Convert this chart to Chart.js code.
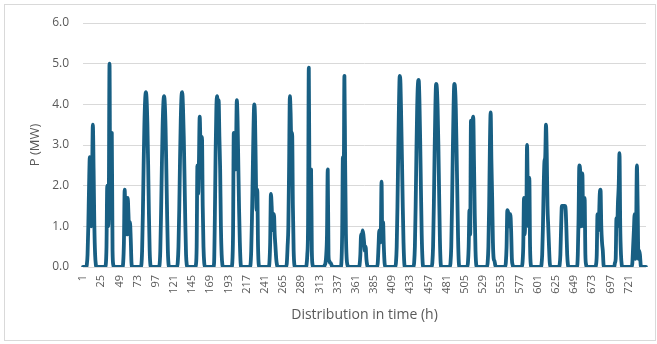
<!DOCTYPE html>
<html>
<head>
<meta charset="utf-8">
<script src="https://cdn.jsdelivr.net/npm/chart.js@4"></script>
<style>
  html, body { margin: 0; padding: 0; background: #fff; }
  #wrap { position: relative; width: 657px; height: 344px; }
</style>
</head>
<body>
<div id="wrap"><canvas id="powerChart" width="657" height="344"></canvas></div>
<script>
'use strict';

// hourly output over one month (744 h)
const power = [
  0,0,0,0,0,0.05,0.3,1.0,2.0,2.7,2.6,1.0,2.2,3.5,2.4,1.0,0.3,0.05,0,0,0,0,0,0,          // day 1
  0,0,0,0,0,0,0.05,0.5,2.0,1.0,1.5,5.0,1.2,2.0,3.3,0.4,0.05,0,0,0,0,0,0,0,             // day 2
  0,0,0,0,0,0.1,0.6,1.9,1.2,0.9,0.8,1.7,1.3,0.8,1.1,0.7,0.1,0,0,0,0,0,0,0,             // day 3
  0,0,0,0,0,0.05,0.4,1.3,2.5,3.5,4.1,4.3,4.1,3.5,2.5,1.3,0.4,0.05,0,0,0,0,0,0,         // day 4
  0,0,0,0,0,0.05,0.4,1.3,2.4,3.4,4.0,4.2,4.0,3.4,2.4,1.3,0.4,0.05,0,0,0,0,0,0,         // day 5
  0,0,0,0,0,0.1,0.5,1.4,2.6,3.6,4.2,4.3,3.9,3.2,2.2,1.1,0.3,0.05,0,0,0,0,0,0,          // day 6
  0,0,0,0,0,0.05,0.5,2.5,1.8,2.6,3.7,3.0,2.2,3.2,1.5,0.5,0.1,0,0,0,0,0,0,0,            // day 7
  0,0,0,0,0,0.1,1.2,2.8,3.9,4.2,3.9,4.1,3.2,2.4,1.0,0.3,0.05,0,0,0,0,0,0,0,            // day 8
  0,0,0,0,0,0.1,0.8,3.3,2.6,2.4,3.0,4.1,3.6,2.5,1.4,0.6,0.1,0,0,0,0,0,0,0,             // day 9
  0,0,0,0,0,0.05,0.4,1.2,2.3,3.4,4.0,3.7,2.5,1.4,1.9,0.5,0.05,0,0,0,0,0,0,0,           // day 10
  0,0,0,0,0,0,0.1,0.6,1.8,1.5,1.0,0.9,1.3,0.8,0.5,0.2,0.05,0,0,0,0,0,0,0,              // day 11
  0,0,0,0,0,0.1,0.5,1.0,2.5,4.2,3.8,3.0,3.3,1.5,0.4,0.05,0,0,0,0,0,0,0,0,              // day 12
  0,0,0,0,0,0,0,0.05,0.3,1.0,4.9,1.5,0.7,2.4,0.4,0.05,0,0,0,0,0,0,0,0,                 // day 13
  0,0,0,0,0,0,0,0.05,0.1,0.3,0.8,2.4,0.3,0.15,0.1,0.1,0.05,0,0,0,0,0,0,0,              // day 14
  0,0,0,0,0,0.1,0.8,2.7,2.0,4.7,2.5,0.8,0.2,0.05,0,0,0,0,0,0,0,0,0,0,                  // day 15
  0,0,0,0,0,0.05,0.3,0.8,0.7,0.9,0.8,0.6,0.4,0.5,0.2,0.05,0,0,0,0,0,0,0,0,             // day 16
  0,0,0,0,0,0.1,0.5,0.9,0.6,0.8,2.1,0.7,1.1,0.5,0.1,0,0,0,0,0,0,0,0,0,                 // day 17
  0,0,0,0,0,0.1,0.5,1.5,2.8,4.0,4.7,4.5,3.6,2.6,1.5,0.6,0.1,0,0,0,0,0,0,0,             // day 18
  0,0,0,0,0,0.1,0.5,1.5,2.8,3.9,4.5,4.6,4.1,3.1,1.9,0.8,0.2,0,0,0,0,0,0,0,             // day 19
  0,0,0,0,0,0.1,0.5,1.5,2.8,3.9,4.5,4.4,3.9,3.0,1.8,0.7,0.1,0,0,0,0,0,0,0,             // day 20
  0,0,0,0,0,0.1,0.5,1.5,2.8,3.9,4.5,4.4,3.9,2.9,1.8,0.7,0.1,0,0,0,0,0,0,0,             // day 21
  0,0,0,0,0.1,0.5,1.4,0.8,3.6,3.5,3.6,3.7,2.6,1.3,0.4,0.05,0,0,0,0,0,0,0,0,            // day 22
  0,0,0,0,0,0,0.1,0.5,1.5,3.0,3.8,2.6,1.7,0.6,0.2,0.15,0.05,0,0,0,0,0,0,0,             // day 23
  0,0,0,0,0,0,0.1,0.5,1.4,1.35,1.2,1.0,1.3,0.9,0.2,0.05,0,0,0,0,0,0,0,0,               // day 24
  0,0,0,0,0.1,0.5,1.7,0.8,1.4,1.2,3.0,1.8,1.0,2.2,0.5,0.05,0,0,0,0,0,0,0,0,            // day 25
  0,0,0,0,0,0.05,0.3,1.0,2.0,2.6,2.7,3.5,2.8,1.5,1.0,0.5,0.1,0,0,0,0,0,0,0,            // day 26
  0,0,0,0,0,0.05,0.3,1.0,1.5,1.5,1.5,1.5,1.5,1.4,0.9,0.3,0.05,0,0,0,0,0,0,0,           // day 27
  0,0,0,0,0,0.3,1.2,2.5,2.4,1.0,2.0,2.3,1.2,1.0,1.7,0.3,0.05,0,0,0,0,0,0,0,            // day 28
  0,0,0,0,0,0.05,0.3,1.3,0.9,1.2,1.8,1.9,1.0,0.6,0.4,0.05,0,0,0,0,0,0,0,0,             // day 29
  0,0,0,0,0,0,0.1,0.2,1.2,1.0,1.6,2.0,2.8,1.0,0.3,0.05,0,0,0,0,0,0,0,0,                // day 30
  0,0,0,0,0,0.1,0.5,0.9,1.3,0.2,1.0,2.5,1.5,0.2,0.4,0.3,0.05,0,0,0,0,0,0,0             // day 31
];

// category labels 1..744, one per hour; only every 24th is printed
const hourLabels = power.map((_, i) => String(i + 1));
const yTicks = [0, 1, 2, 3, 4, 5, 6];

const LINE = '#185f83';
const GRID = '#d9d9d9';
const TXT = '#595959';
const FONT = "'Open Sans', 'Liberation Sans', sans-serif";

const frame = {
  id: 'frame',
  beforeDraw(chart) {
    const c = chart.ctx;
    c.save();
    c.fillStyle = '#fff';
    c.fillRect(0, 0, chart.width, chart.height);
    c.strokeStyle = GRID;
    c.lineWidth = 1;
    c.strokeRect(4.5, 4.5, 651, 336);
    c.restore();
  }
};

new Chart(document.getElementById('powerChart'), {
  type: 'line',
  data: {
    labels: hourLabels,
    datasets: [{
      data: power,
      borderColor: LINE,
      borderWidth: 3.8,
      pointRadius: 0,
      cubicInterpolationMode: 'monotone',
      borderJoinStyle: 'round',
      borderCapStyle: 'round',
      fill: false
    }]
  },
  options: {
    responsive: false,
    animation: false,
    layout: { padding: { top: 23, right: 11, left: 0, bottom: 0 } },
    plugins: { legend: { display: false }, tooltip: { enabled: false } },
    scales: {
      x: {
        type: 'category',
        offset: false,
        grid: { display: false, drawTicks: false },
        border: { display: false },
        afterBuildTicks: s => { s.ticks = s.ticks.filter(t => t.value % 24 === 0); },
        afterFit: s => { s.height = 77; },
        ticks: {
          autoSkip: false,
          minRotation: 90,
          maxRotation: 90,
          padding: 8,
          color: TXT,
          font: { family: FONT, size: 11 }
        },
        title: {
          display: true,
          text: 'Distribution in time (h)',
          color: TXT,
          font: { family: FONT, size: 14 },
          padding: { top: 0, bottom: 21 }
        }
      },
      y: {
        min: 0,
        max: 6,
        afterBuildTicks: s => { s.ticks = yTicks.map(v => ({ value: v })); },
        afterFit: s => { s.width = 83; },
        grid: { color: GRID, lineWidth: 1, drawTicks: false },
        border: { display: false },
        ticks: {
          padding: 14,
          color: TXT,
          font: { family: FONT, size: 12 },
          callback: v => Number(v).toFixed(1)
        },
        title: {
          display: true,
          text: 'P (MW)',
          color: TXT,
          font: { family: FONT, size: 13 },
          padding: { top: 27, bottom: 0 }
        }
      }
    }
  },
  plugins: [frame]
});
</script>
</body>
</html>
